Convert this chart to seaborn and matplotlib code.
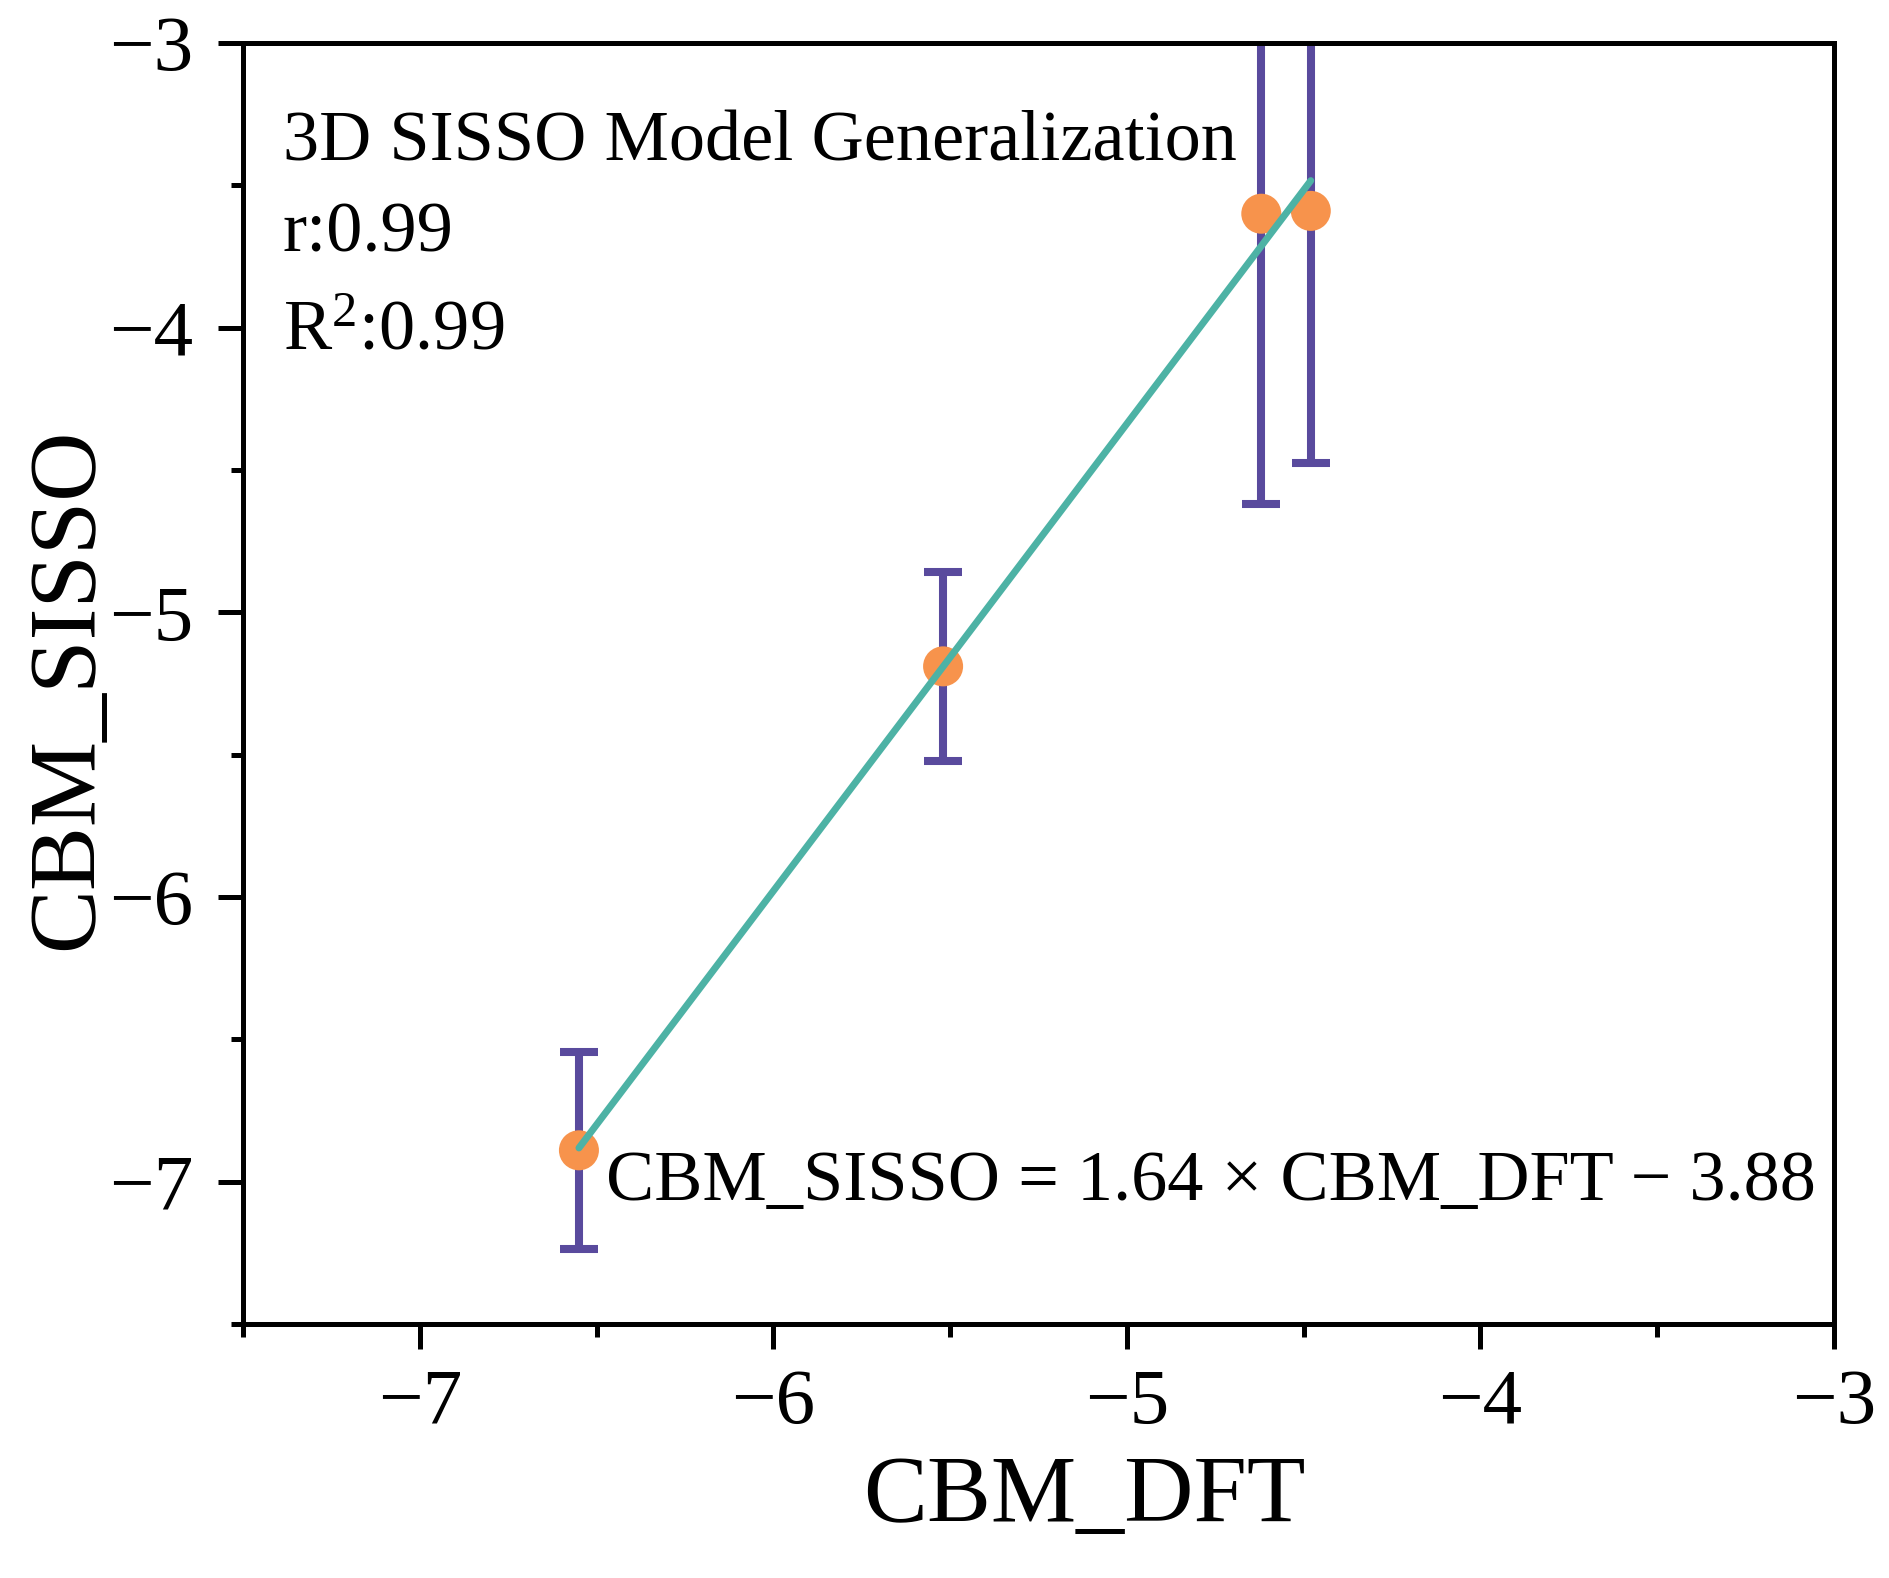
import numpy as np
import pandas as pd
import matplotlib
matplotlib.use("Agg")
import matplotlib.pyplot as plt
import seaborn as sns

# values
cbm_dft = [-6.55, -5.52, -4.62, -4.48]
cbm_sisso = [-6.89, -5.19, -3.60, -3.59]
sisso_err = [0.345, 0.333, 1.02, 0.885]

title_text = "3D SISSO Model Generalization"
r_text = "r:0.99"
r2_text = "R$^2$:0.99"
eq_text = "CBM_SISSO = 1.64 × CBM_DFT − 3.88"

x_ticks = [-7, -6, -5, -4, -3]
y_ticks = [-7, -6, -5, -4, -3]

df = pd.DataFrame({"CBM_DFT": cbm_dft, "CBM_SISSO": cbm_sisso, "err": sisso_err})

orange = "#F7934C"
purple = "#594A9D"
teal = "#4DB2A5"

sns.set_theme(style="ticks")
plt.rcParams["font.family"] = ["Liberation Serif", "DejaVu Serif"]
plt.rcParams["mathtext.fontset"] = "custom"
plt.rcParams["mathtext.rm"] = "Liberation Serif"
plt.rcParams["mathtext.it"] = "Liberation Serif:italic"
plt.rcParams["text.color"] = "black"

fig = plt.figure(figsize=(18.9, 15.78), dpi=100)
ax = fig.add_axes([0.1286, 0.1610, 0.8418, 0.8118])

ax.errorbar(df["CBM_DFT"], df["CBM_SISSO"], yerr=df["err"], fmt="none",
            ecolor=purple, elinewidth=5.8, capsize=13.5, capthick=5.8, zorder=2)
sns.scatterplot(data=df, x="CBM_DFT", y="CBM_SISSO", color=orange, s=830,
                edgecolor="none", ax=ax, zorder=3)

slope, intercept = np.polyfit(df["CBM_DFT"], df["CBM_SISSO"], 1)
fit_x = np.array([df["CBM_DFT"].min(), df["CBM_DFT"].max()])
ax.plot(fit_x, slope * fit_x + intercept, color=teal, lw=5, zorder=4)

ax.set_xlim(-7.5, -3)
ax.set_ylim(-7.5, -3)
ax.set_xticks(x_ticks)
ax.set_yticks(y_ticks)
ax.set_xticks(np.arange(-7.5, -2.9, 0.5), minor=True)
ax.set_yticks(np.arange(-7.5, -2.9, 0.5), minor=True)
ax.tick_params(which="major", direction="out", length=18, width=3.6,
               labelsize=57, pad=14, color="black", labelcolor="black")
ax.tick_params(which="minor", direction="out", length=9, width=3.6, color="black")
ax.tick_params(axis="y", which="major", pad=18)

for side in ["left", "right", "top", "bottom"]:
    ax.spines[side].set_visible(True)
    ax.spines[side].set_linewidth(3.6)
    ax.spines[side].set_color("black")

ax.set_xlabel("CBM_DFT", fontsize=69, color="black")
ax.set_ylabel("CBM_SISSO", fontsize=69, color="black")
ax.xaxis.set_label_coords(0.529, -0.103)
ax.yaxis.set_label_coords(-0.082, 0.496)

txt_kw = dict(transform=ax.transAxes, fontsize=52, va="baseline", color="black")
ax.text(0.0251, 0.908, title_text, **txt_kw)
ax.text(0.0251, 0.837, r_text, **txt_kw)
ax.text(0.0251, 0.761, r2_text, **txt_kw)
ax.text(0.228, 0.0968, eq_text, **txt_kw)

fig.savefig("out.png", dpi=100, facecolor="white")
